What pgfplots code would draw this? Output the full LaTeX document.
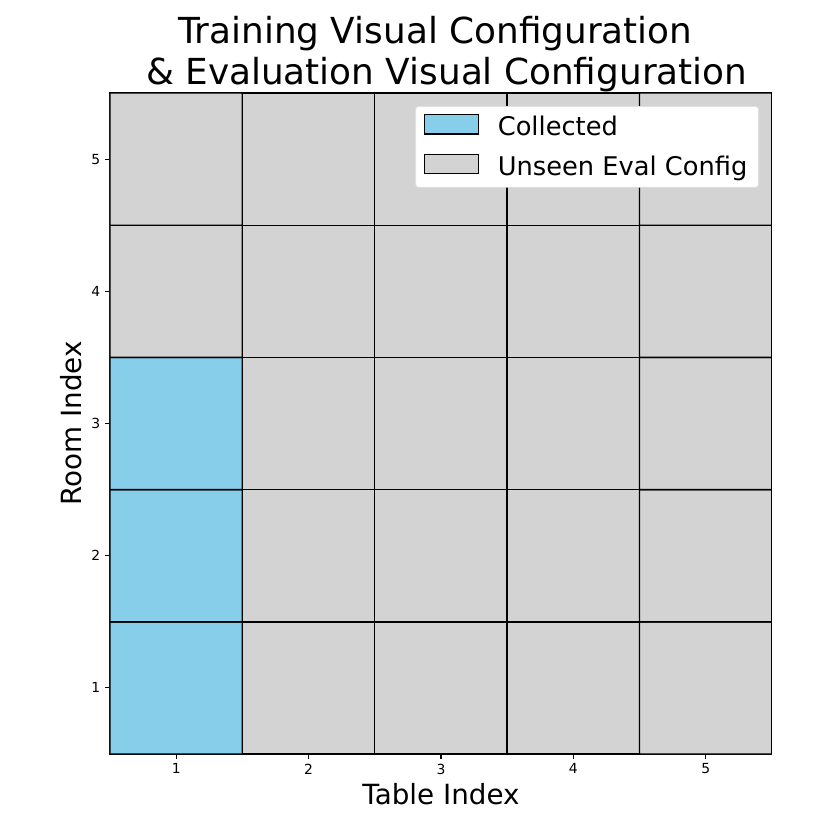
\documentclass[border=0pt]{standalone}
\usepackage{fontspec}
\setmainfont{DejaVu Sans}
\usepackage{pgfplots}
\pgfplotsset{compat=1.18}
\usepackage{pgfplotstable}

\definecolor{skyblue}{RGB}{135,206,235}
\definecolor{lgray}{RGB}{211,211,211}

% c = 0 collected, 1 unseen eval config
\pgfplotstableread{
x y c
1 1 0
2 1 1
3 1 1
4 1 1
5 1 1
1 2 0
2 2 1
3 2 1
4 2 1
5 2 1
1 3 0
2 3 1
3 3 1
4 3 1
5 3 1
1 4 1
2 4 1
3 4 1
4 4 1
5 4 1
1 5 1
2 5 1
3 5 1
4 5 1
5 5 1
}\cells

\begin{document}
\begin{tikzpicture}
	\begin{axis}[
			name=ax,
			scale only axis,
			width=476.6pt, height=475.9pt,
			xmin=0.5, xmax=5.5, ymin=0.5, ymax=5.5,
			xtick={1,2,3,4,5}, ytick={1,2,3,4,5},
			tick align=outside, major tick length=3.5pt,
			xtick pos=left, ytick pos=left,
			tick style={black, line width=0.8pt},
			axis line style={line width=0.8pt},
			tick label style={font=\fontsize{10}{12}\selectfont,
					/pgf/number format/assume math mode=true},
			xlabel={Table Index}, ylabel={Room Index},
			label style={font=\fontsize{20}{24}\selectfont},
			title={Training Visual Configuration\hspace*{\fontdimen2\font}\\
					\hspace*{\fontdimen2\font}\& Evaluation Visual Configuration},
			title style={font=\fontsize{25.8}{30}\selectfont, align=center, yshift=-9pt},
			colormap={skygray}{rgb255=(135,206,235) rgb255=(211,211,211)},
			point meta min=0, point meta max=1,
			legend style={at={(0.98,0.98)}, anchor=north east,
					draw=black!12, rounded corners=2pt,
					font=\fontsize{18.5}{22}\selectfont,
					row sep=9pt, inner xsep=6pt, inner ysep=5pt},
			legend cell align=left,
			legend image code/.code={
					\draw[#1, sharp corners, line width=0.8pt] (0pt,-5pt) rectangle (39pt,9pt);
					\path (50.5pt,0pt);},
		]
		\addplot[matrix plot*, mesh/cols=5, point meta=explicit,
			draw=black, line width=1pt, forget plot] table[meta=c] {\cells};
		\addlegendimage{fill=skyblue, draw=black}
		\addlegendentry{Collected}
		\addlegendimage{fill=lgray, draw=black}
		\addlegendentry{Unseen Eval Config}
	\end{axis}
	\path (ax.south west) ++(-79.2pt,-54.72pt) rectangle ++(597.6pt,597.6pt);
\end{tikzpicture}
\end{document}
